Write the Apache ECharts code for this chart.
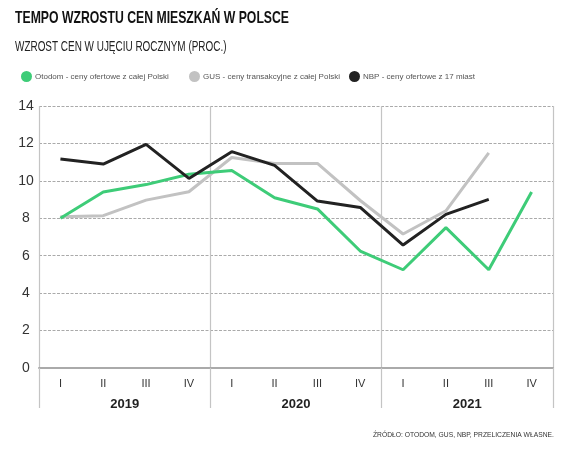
<!DOCTYPE html>
<html><head><meta charset="utf-8">
<script src="https://cdn.jsdelivr.net/npm/echarts@6/dist/echarts.min.js"></script>
<style>html,body{margin:0;padding:0;background:#fff}#c{width:584px;height:454px}</style>
</head><body><div id="c"></div>
<script>
const quarters = ['I','II','III','IV','I','II','III','IV','I','II','III','IV'];
const years = ['2019','2020','2021'];
const otodom = [8.0, 9.4, 9.8, 10.35, 10.55, 9.1, 8.5, 6.25, 5.25, 7.5, 5.25, 9.4];
const gus = [8.08, 8.14, 8.97, 9.42, 11.25, 10.93, 10.93, 8.95, 7.16, 8.4, 11.5, null];
const nbp = [11.17, 10.9, 11.95, 10.13, 11.56, 10.83, 8.92, 8.58, 6.57, 8.21, 9.01, null];
const yTicks = [0, 2, 4, 6, 8, 10, 12, 14];

const FONT = "'Liberation Sans', Arial, sans-serif";
const chart = echarts.init(document.getElementById('c'), null, {renderer: 'canvas'});
const names = ['Otodom - ceny ofertowe z całej Polski', 'GUS - ceny transakcyjne z całej Polski', 'NBP - ceny ofertowe z 17 miast'];
const colors = ['#3ecc78', '#c2c2c2', '#222222'];
const legendLeft = [16, 184, 344];

chart.setOption({
  animation: false,
  textStyle: {fontFamily: FONT},
  graphic: [
    {type: 'text', x: 15, y: 10, scaleX: 0.72,
     style: {text: 'TEMPO WZROSTU CEN MIESZKAŃ W POLSCE', font: 'bold 17px ' + FONT, fill: '#111', textVerticalAlign: 'top'}},
    {type: 'text', x: 15, y: 40, scaleX: 0.71,
     style: {text: 'WZROST CEN W UJĘCIU ROCZNYM (PROC.)', font: '14px ' + FONT, fill: '#222', textVerticalAlign: 'top'}},
    {type: 'text', x: 373, y: 431, scaleX: 0.84,
     style: {text: 'ŹRÓDŁO: OTODOM, GUS, NBP, PRZELICZENIA WŁASNE.', font: '8px ' + FONT, fill: '#333', textVerticalAlign: 'top'}}
  ],
  legend: names.map((n, i) => ({
    data: [n], left: legendLeft[i], top: 66, icon: 'circle', itemWidth: 11, itemHeight: 11, itemGap: 4,
    textStyle: {fontFamily: FONT, fontSize: 8, color: '#555', padding: [0, 0, 0, -2]}
  })),
  grid: {left: 39, top: 106, width: 514, height: 262, containLabel: false},
  xAxis: [
    {type: 'category', data: quarters, boundaryGap: true, position: 'bottom',
     axisLine: {show: true, lineStyle: {color: '#aaaaaa', width: 2}},
     axisTick: {show: false},
     axisLabel: {margin: 10, fontSize: 11, color: '#333', fontFamily: FONT},
     splitLine: {show: false}},
    {type: 'category', data: years, boundaryGap: true, position: 'bottom',
     axisLine: {show: false},
     axisTick: {show: true, length: 40, lineStyle: {color: '#c4c4c4', width: 1.2}},
     axisLabel: {margin: 30, fontSize: 13, fontWeight: 'bold', color: '#222', fontFamily: FONT},
     splitLine: {show: true, lineStyle: {color: '#c4c4c4', width: 1.2}}}
  ],
  yAxis: {type: 'value', min: yTicks[0], max: yTicks[yTicks.length - 1], interval: 2,
    axisLine: {show: false}, axisTick: {show: false},
    axisLabel: {margin: 13, align: 'center', fontSize: 14, color: '#333', fontFamily: FONT, padding: [0, 0, 3, 0]},
    splitLine: {show: true, lineStyle: {color: '#aaaaaa', type: [3, 1.5], width: 1}}},
  series: [
    {name: names[0], type: 'line', data: otodom, xAxisIndex: 0, symbol: 'none', lineStyle: {width: 3, color: colors[0]}, itemStyle: {color: colors[0]}, z: 3},
    {name: names[1], type: 'line', data: gus, xAxisIndex: 0, symbol: 'none', lineStyle: {width: 3, color: colors[1]}, itemStyle: {color: colors[1]}, z: 2},
    {name: names[2], type: 'line', data: nbp, xAxisIndex: 0, symbol: 'none', lineStyle: {width: 3, color: colors[2]}, itemStyle: {color: colors[2]}, z: 4}
  ]
});
</script></body></html>
